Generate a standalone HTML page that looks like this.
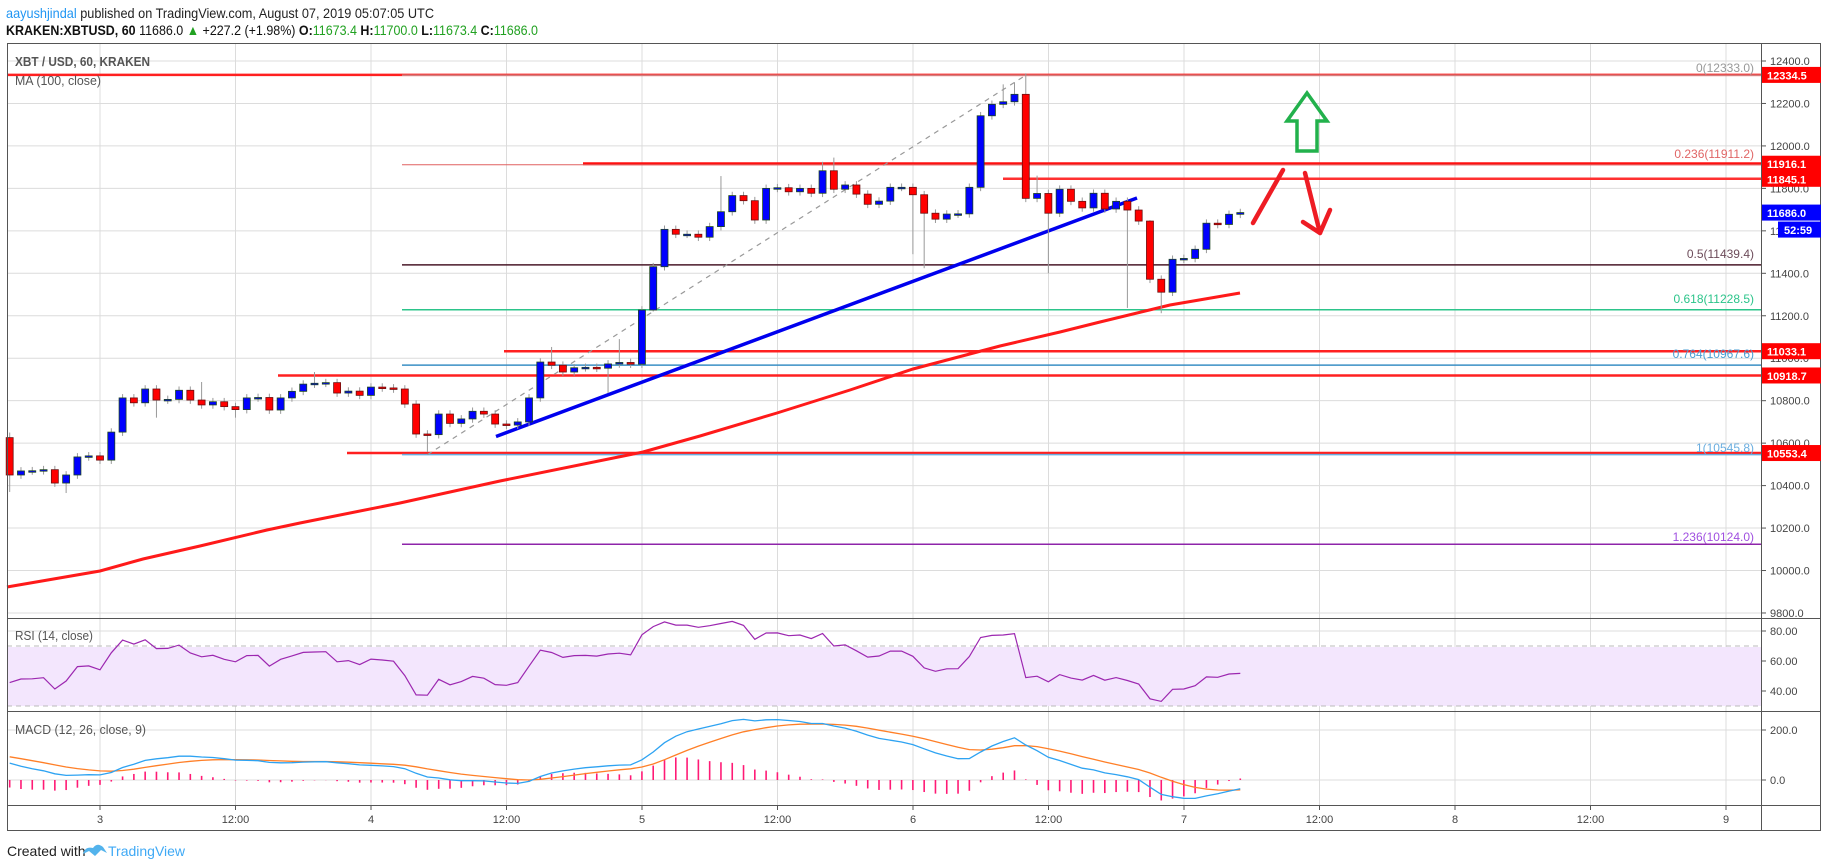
<!DOCTYPE html>
<html><head><meta charset="utf-8">
<style>
html,body{margin:0;padding:0;background:#fff;}
svg{display:block;font-family:"Liberation Sans",Arial,sans-serif;}
</style></head>
<body>
<svg id="s" width="1828" height="868" viewBox="0 0 1828 868" xmlns="http://www.w3.org/2000/svg">
<rect width="1828" height="868" fill="#fff"/>
<text x="6" y="18" font-size="14" textLength="428" lengthAdjust="spacingAndGlyphs"><tspan fill="#2196f3">aayushjindal</tspan><tspan fill="#222"> published on TradingView.com, August 07, 2019 05:07:05 UTC</tspan></text>
<text x="6" y="35" font-size="14" fill="#111" textLength="532" lengthAdjust="spacingAndGlyphs"><tspan font-weight="bold">KRAKEN:XBTUSD, 60</tspan> 11686.0 <tspan fill="#21a121">▲</tspan> +227.2 (+1.98%) <tspan font-weight="bold">O:</tspan><tspan fill="#21a121">11673.4</tspan> <tspan font-weight="bold">H:</tspan><tspan fill="#21a121">11700.0</tspan> <tspan font-weight="bold">L:</tspan><tspan fill="#21a121">11673.4</tspan> <tspan font-weight="bold">C:</tspan><tspan fill="#21a121">11686.0</tspan></text>

<g id="grid" stroke="#dcdcdc" stroke-width="1"></g>
<rect x="7" y="647" width="1754" height="59" fill="#f3e6fd"/>
<line x1="7" y1="646" x2="1761" y2="646" stroke="#bbb" stroke-dasharray="5,4"/>
<line x1="7" y1="706" x2="1761" y2="706" stroke="#bbb" stroke-dasharray="5,4"/>
<g id="hl"></g>
<g id="ma"></g>
<g id="cd"></g>
<g id="ind"></g>

<g stroke="#555" stroke-width="1" fill="none">
<rect x="7.5" y="43.5" width="1813" height="787"/>
<line x1="1761.5" y1="43" x2="1761.5" y2="831"/>
<line x1="7" y1="618.5" x2="1821" y2="618.5"/>
<line x1="7" y1="711.5" x2="1821" y2="711.5"/>
<line x1="7" y1="805.5" x2="1821" y2="805.5"/>
</g>
<g id="axis" font-size="11" fill="#444"></g>

<text x="15" y="66" font-size="13" font-weight="bold" fill="#555" textLength="135" lengthAdjust="spacingAndGlyphs">XBT / USD, 60, KRAKEN</text>
<text x="15" y="85" font-size="13" fill="#555" textLength="86" lengthAdjust="spacingAndGlyphs">MA (100, close)</text>
<text x="15" y="640" font-size="13" fill="#555" textLength="78" lengthAdjust="spacingAndGlyphs">RSI (14, close)</text>
<text x="15" y="734" font-size="13" fill="#555" textLength="131" lengthAdjust="spacingAndGlyphs">MACD (12, 26, close, 9)</text>

<g font-size="12" text-anchor="end">
<text x="1754" y="72" fill="#999">0(12333.0)</text>
<text x="1754" y="158" fill="#e06666">0.236(11911.2)</text>
<text x="1754" y="258" fill="#6d4c5a">0.5(11439.4)</text>
<text x="1754" y="303" fill="#2bc48a">0.618(11228.5)</text>
<text x="1754" y="358" fill="#4a9fd4">0.764(10967.6)</text>
<text x="1754" y="452" fill="#6aaee0">1(10545.8)</text>
<text x="1754" y="541" fill="#a050e0">1.236(10124.0)</text>
</g>

<polygon points="1287,121 1307,93 1327,121 1317,121 1317,151 1297,151 1297,121" fill="none" stroke="#22b14c" stroke-width="3.5"/>
<g stroke="#ee1c24" stroke-width="4.5" fill="none" stroke-linecap="round" stroke-linejoin="round">
<line x1="1253" y1="223" x2="1283" y2="170"/>
<line x1="1305" y1="173" x2="1320" y2="233"/>
<polyline points="1303,222 1320,233 1330,210"/>
</g>

<text x="7" y="856" font-size="14" fill="#222">Created with</text>
<g transform="translate(83,844)">
<path d="M0,10 Q2,2 10,4 Q14,-2 20,3 L24,9 L18,6 L12,12 L6,7 Z" fill="#53b3ec"/>
</g>
<text x="108" y="856" font-size="14" fill="#3fa9f5">TradingView</text>
</svg>
<script>
(function(){
var NS="http://www.w3.org/2000/svg";
function el(p,t,a){var e=document.createElementNS(NS,t);for(var k in a)e.setAttribute(k,a[k]);p.appendChild(e);return e;}
function Y(p){return 61+(12400-p)*0.2123;}
function X(i){return 100+(i-8)*11.29;}
var L=7,R=1761;
var grid=document.getElementById('grid');
for(var k=-1;k<14;k++){var x=100+k*135.5;if(x<L||x>R)continue;el(grid,'line',{x1:x,y1:43,x2:x,y2:805});}
for(var p=9800;p<=12400;p+=200){var y=Y(p);el(grid,'line',{x1:L,y1:y,x2:R,y2:y});}
[80,60,40].forEach(function(v){var y=751-1.5*v;el(grid,'line',{x1:L,y1:y,x2:R,y2:y});});
[0,200].forEach(function(v){var y=780-0.25*v;el(grid,'line',{x1:L,y1:y,x2:R,y2:y});});

var hl=document.getElementById('hl');
function hline(x1,p,c,w){var y=Y(p);el(hl,'line',{x1:x1,y1:y,x2:R,y2:y,stroke:c,'stroke-width':w});}
hline(7,12334.5,'#ff2020',2.5);
hline(402,12333,'#d08080',1.5);
hline(583,11916.1,'#ff1010',3);
hline(402,11911.2,'#e06060',1);
hline(1003,11845.1,'#ff3030',2.5);
hline(402,11439.4,'#4a1a2a',1.5);
hline(402,11228.5,'#2bc48a',1.5);
hline(504,11033.1,'#ff2020',2.5);
hline(402,10967.6,'#3a8fc4',1.5);
hline(278,10918.7,'#ff2020',2.5);
hline(347,10553.4,'#ff2020',2.5);
hline(402,10545.8,'#6aaee0',1.5);
hline(402,10124,'#8e24aa',1.5);
el(hl,'line',{x1:X(37),y1:Y(10545.8),x2:X(90),y2:Y(12333),stroke:'#999','stroke-width':1.2,'stroke-dasharray':'5,5'});
el(hl,'line',{x1:496,y1:436.5,x2:1137,y2:198,stroke:'#0000ee','stroke-width':3.5});

var ma=[[7,587],[100,571],[143,559],[200,546],[267,530],[300,523],[400,503],[500,481],[643,452],[700,436],[777,413],[850,390],[913,369],[1000,346],[1060,332],[1100,322],[1170,305],[1240,293]];
el(document.getElementById('ma'),'polyline',{points:ma.map(function(a){return a.join(',')}).join(' '),fill:'none',stroke:'#ff1a1a','stroke-width':3});

var C=[10450,10469,10470,10475,10412,10450,10535,10540,10520,10652,10813,10790,10855,10803,10806,10849,10803,10780,10795,10772,10758,10813,10815,10756,10813,10844,10878,10882,10885,10836,10845,10825,10864,10860,10855,10784,10643,10640,10737,10693,10714,10750,10737,10690,
10685,10700,10813,10982,10967,10935,10955,10957,10953,10973,10980,10972,11227,11431,11607,11584,11584,11570,11620,11690,11766,11742,11651,11800,11803,11784,11800,11777,11883,11796,11816,11773,11725,11740,11805,11805,11770,11683,11655,11679,11680,11805,12142,12196,12208,12243,11753,11776,11683,11796,11739,11708,11777,11703,11739,11698,11646,11372,11311,11466,11470,11513,11636,11630,11678,11686];
var H={0:10650,17:10888,27:10935,48:11053,54:11090,63:11858,72:11925,73:11945,88:12290,89:12300,90:12342,91:11860,101:11650};
var Lo={0:10370,5:10365,13:10720,20:10720,37:10558,53:10836,57:11220,80:11490,81:11424,92:11400,99:11237,102:11212};
var cd=document.getElementById('cd');
for(var i=0;i<C.length;i++){
 var o=i==0?10626:C[i-1],c=C[i];
 var h=H[i]!==undefined?H[i]:Math.max(o,c)+18;
 var l=Lo[i]!==undefined?Lo[i]:Math.min(o,c)-18;
 var x=X(i);
 el(cd,'line',{x1:x,y1:Y(h),x2:x,y2:Y(l),stroke:'#999','stroke-width':1});
 var up=c>=o;var yt=Y(Math.max(o,c)),yb=Y(Math.min(o,c));
 var hh=Math.max(yb-yt,1.5);
 el(cd,'rect',{x:x-3.5,y:yt,width:7,height:hh,fill:up?'#0000ff':'#ff0000',stroke:up?'#1e4620':'#6b0f0f','stroke-width':0.8});
}

var pre=[];
for(var k=0;k<50;k++)pre.push(9700+k*18+30*Math.sin(k/2.5));
for(var k=0;k<10;k++)pre.push(10600+25*Math.sin(k*1.3));
pre.push(10626);
var all=pre.concat(C);var off=pre.length;
function ema(a,n){var k=2/(n+1),e=a[0],o=[];for(var i=0;i<a.length;i++){e=i==0?a[0]:a[i]*k+e*(1-k);o.push(e);}return o;}
var e12=ema(all,12),e26=ema(all,26),m=all.map(function(v,i){return e12[i]-e26[i]});var sg=ema(m,9);
var ag=0,al=0,rsi=[];
for(var i=1;i<all.length;i++){var d=all[i]-all[i-1];var g=d>0?d:0,ls=d<0?-d:0;
 if(i<=14){ag+=g/14;al+=ls/14;}else{ag=(ag*13+g)/14;al=(al*13+ls)/14;}
 rsi[i]=al==0?100:100-100/(1+ag/al);}
var ind=document.getElementById('ind');
var rp=[],mp=[],sp=[];
for(var i=0;i<C.length;i++){var j=i+off;var x=X(i);
 rp.push(x+','+(751-1.5*rsi[j]).toFixed(1));
 mp.push(x+','+(780-0.25*m[j]).toFixed(1));
 sp.push(x+','+(780-0.25*sg[j]).toFixed(1));
 var hv=(m[j]-sg[j])*0.25*1.2;
 el(ind,'line',{x1:x,y1:780,x2:x,y2:780-hv,stroke:'#ff1a75','stroke-width':1.6});
}
el(ind,'polyline',{points:rp.join(' '),fill:'none',stroke:'#9c27b0','stroke-width':1.2});
el(ind,'polyline',{points:sp.join(' '),fill:'none',stroke:'#ff7f27','stroke-width':1.3});
el(ind,'polyline',{points:mp.join(' '),fill:'none',stroke:'#2ea3f2','stroke-width':1.3});

var ax=document.getElementById('axis');
function tick(y){el(ax,'line',{x1:1761,y1:y,x2:1766,y2:y,stroke:'#555'});}
function lab(t,y){tick(y);var e=el(ax,'text',{x:1770,y:y+4});e.textContent=t;}
for(var p=9800;p<=12400;p+=200){lab(p.toFixed(1),Y(p));}
lab('80.00',631);lab('60.00',661);lab('40.00',691);
lab('200.0',730);lab('0.0',780);
var xl=['3','12:00','4','12:00','5','12:00','6','12:00','7','12:00','8','12:00','9'];
for(var k=0;k<xl.length;k++){var x=100+k*135.5;el(ax,'line',{x1:x,y1:805,x2:x,y2:810,stroke:'#555'});var t=el(ax,'text',{x:x,y:823,'text-anchor':'middle'});t.textContent=xl[k];}
function box(t,p,c){var y=Y(p);el(ax,'rect',{x:1762,y:y-8,width:59,height:16,fill:c});var e=el(ax,'text',{x:1767,y:y+4.5,fill:'#fff','font-weight':'bold'});e.textContent=t;}
box('12334.5',12334.5,'#ff0000');
box('11916.1',11916.1,'#ff0000');
box('11845.1',11845.1,'#ff0000');
box('11686.0',11686,'#0000ff');
box('11033.1',11033.1,'#ff0000');
box('10918.7',10918.7,'#ff0000');
box('10553.4',10553.4,'#ff0000');
var y2=Y(11686)+9;el(ax,'rect',{x:1778,y:y2,width:43,height:16,fill:'#0000ff'});
var e2=el(ax,'text',{x:1784,y:y2+12.5,fill:'#fff','font-weight':'bold'});e2.textContent='52:59';
})();
</script>
</body></html>
